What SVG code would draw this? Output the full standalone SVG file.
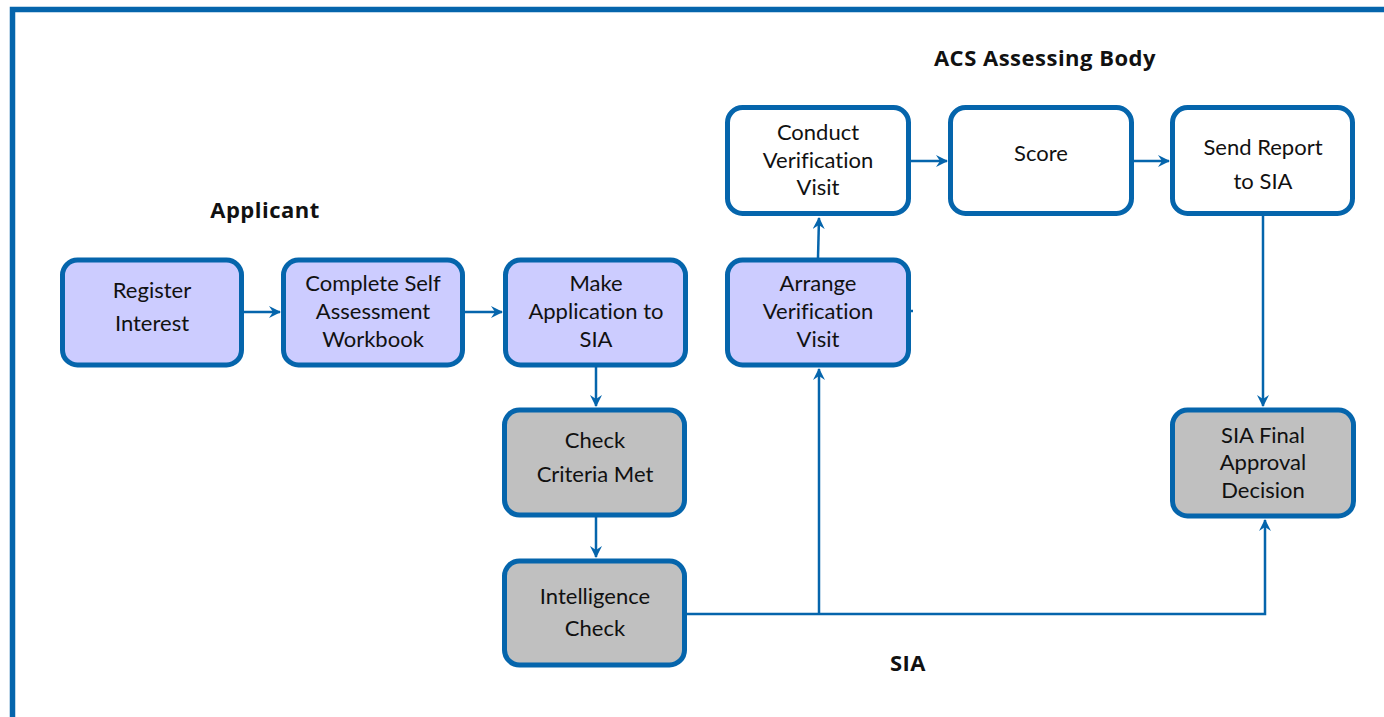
<svg xmlns="http://www.w3.org/2000/svg" width="1384" height="717" viewBox="0 0 1384 717">
<style>
.n{stroke:#0565AC;stroke-width:5;}
.a{fill:#CCCCFF}.g{fill:#C0C0C0}.w{fill:#FFFFFF}
text{font-family:Lato,"Open Sans","Liberation Sans",sans-serif;font-size:22px;fill:#111;text-anchor:middle;font-variant-ligatures:none}
.t{font-family:"Open Sans","Liberation Sans",sans-serif;font-weight:bold;font-size:22px;letter-spacing:0.5px}
.c{fill:none;stroke:#0565AC;stroke-width:2.5}
</style>
<defs>
<marker id="ar" viewBox="0 0 12 12" refX="11" refY="6" markerWidth="12" markerHeight="12" markerUnits="userSpaceOnUse" orient="auto">
<path d="M0,0 L12,6 L0,12 L4,6 z" fill="#0565AC"/>
</marker>
</defs>
<rect width="1384" height="717" fill="#fff"/>
<rect x="12.5" y="9.5" width="1400" height="740" fill="none" stroke="#0565AC" stroke-width="5.5"/>
<text class="t" x="265" y="218">Applicant</text>
<text class="t" x="1045" y="66">ACS Assessing Body</text>
<text class="t" x="908" y="671">SIA</text>
<g id="connectors">
<path class="c" d="M244,312 H280" marker-end="url(#ar)"/>
<path class="c" d="M465,312 H502" marker-end="url(#ar)"/>
<path class="c" d="M596,367 V406" marker-end="url(#ar)"/>
<path class="c" d="M596,517 V557" marker-end="url(#ar)"/>
<path class="c" d="M687,614 H1265 V520" marker-end="url(#ar)"/>
<path class="c" d="M819,614 V369" marker-end="url(#ar)"/>
<path class="c" d="M818,258 L819,218" marker-end="url(#ar)"/>
<path class="c" d="M911,161 H947" marker-end="url(#ar)"/>
<path class="c" d="M1134,161 H1169" marker-end="url(#ar)"/>
<path class="c" d="M1263,215 V406" marker-end="url(#ar)"/>
<path class="c" d="M910,311 H913"/>
</g>
<g id="register"><rect class="n a" x="62.5" y="260" width="179" height="105" rx="15"/><text x="152" y="298">Register</text><text x="152" y="331">Interest</text></g>
<g id="complete"><rect class="n a" x="283.5" y="260" width="179" height="105" rx="15"/><text x="373" y="291">Complete Self</text><text x="373" y="319">Assessment</text><text x="373" y="347">Workbook</text></g>
<g id="make"><rect class="n a" x="505.5" y="260" width="180" height="105" rx="15"/><text x="596" y="291">Make</text><text x="596" y="319">Application to</text><text x="596" y="347">SIA</text></g>
<g id="check"><rect class="n g" x="504.5" y="410" width="180" height="105" rx="15"/><text x="595" y="448">Check</text><text x="595" y="482">Criteria Met</text></g>
<g id="intel"><rect class="n g" x="504.5" y="561" width="180" height="104" rx="15"/><text x="595" y="604">Intelligence</text><text x="595" y="636">Check</text></g>
<g id="arrange"><rect class="n a" x="727.5" y="260" width="181" height="105" rx="15"/><text x="818" y="291">Arrange</text><text x="818" y="319">Verification</text><text x="818" y="347">Visit</text></g>
<g id="conduct"><rect class="n w" x="727.5" y="107.5" width="181" height="106" rx="15"/><text x="818" y="140">Conduct</text><text x="818" y="168">Verification</text><text x="818" y="195">Visit</text></g>
<g id="score"><rect class="n w" x="950.5" y="107.5" width="181" height="106" rx="15"/><text x="1041" y="161">Score</text></g>
<g id="send"><rect class="n w" x="1172.5" y="107.5" width="180" height="106" rx="15"/><text x="1263" y="155">Send Report</text><text x="1263" y="189">to SIA</text></g>
<g id="final"><rect class="n g" x="1172.5" y="410" width="181" height="106" rx="15"/><text x="1263" y="443">SIA Final</text><text x="1263" y="470">Approval</text><text x="1263" y="498">Decision</text></g>
</svg>
